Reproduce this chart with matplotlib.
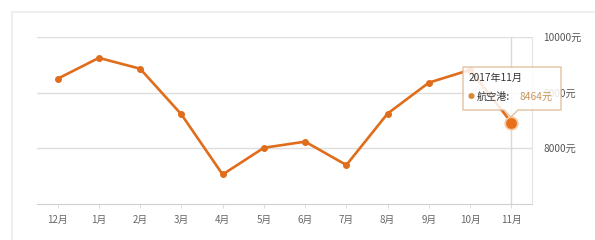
import matplotlib.pyplot as plt
from matplotlib.patches import Polygon
from matplotlib.lines import Line2D

plt.rcParams['font.family'] = ['Noto Sans CJK SC', 'DejaVu Sans']

months = ['12月', '1月', '2月', '3月', '4月', '5月', '6月', '7月', '8月', '9月', '10月', '11月']
prices = [9250, 9625, 9430, 8610, 7530, 8010, 8120, 7700, 8625, 9180, 9410, 8464]
yticks = [8000, 9000, 10000]
ylabels = ['8000元', '9000元', '10000元']
series_name = '航空港'
tip_title = '2017年11月'

W, H = 595, 240
fig = plt.figure(figsize=(W / 100, H / 100), dpi=100)
ax = fig.add_axes([37 / W, 1 - 204 / H, (532 - 37) / W, (204 - 37) / H])


def px(x, y):
    return (x / W, 1 - y / H)


# outer panel frame
fig.add_artist(Line2D([12 / W, 12 / W], [0, 1 - 12 / H], color='#ececec', lw=1.2))
fig.add_artist(Line2D([12 / W, 1], [1 - 12 / H, 1 - 12 / H], color='#ececec', lw=1.2))

xs = list(range(len(months)))
ax.plot(xs, prices, color='#e06d1c', lw=1.9, marker='o', ms=4, zorder=3)
ax.plot(xs[-1], prices[-1], 'o', color='#e8701a', ms=9, mec='#f6c9a0', mew=1.2, zorder=4)
ax.axvline(xs[-1], color='#d8d8d8', lw=1, zorder=1)

ax.set_xlim(-0.5, 11.5)
ax.set_ylim(7000, 10000)
ax.set_xticks(xs)
ax.set_xticklabels(months, fontsize=7, color='#666666')
ax.set_yticks(yticks)
ax.set_yticklabels(ylabels, fontsize=7.3, color='#555555')
ax.yaxis.tick_right()
ax.tick_params(axis='y', length=0, pad=8)
ax.tick_params(axis='x', length=3, color='#dddddd', pad=5)
ax.grid(axis='y', color='#dedede', lw=1)
ax.set_axisbelow(True)
for s in ['left', 'top']:
    ax.spines[s].set_visible(False)
ax.spines['right'].set_color('#e2e2e2')
ax.spines['bottom'].set_color('#d0d0d0')

# tooltip
box = Polygon([px(463, 67), px(561, 67), px(561, 110), px(518, 110), px(511, 117),
               px(504, 110), px(463, 110)], closed=True, transform=fig.transFigure,
              facecolor='white', alpha=0.85, edgecolor='#dcb88e', lw=1, zorder=10)
fig.add_artist(box)
fig.text(*px(469, 78), tip_title, fontsize=7.3, color='#333333', va='center', zorder=11)
fig.text(*px(471, 97), '●', fontsize=5, color='#d98b3a', va='center', ha='center', zorder=11)
fig.text(*px(477, 97), series_name + ':', fontsize=7.3, color='#333333', va='center', zorder=11)
fig.text(*px(520, 97), '%d元' % prices[-1], fontsize=7.3, color='#c8955c', va='center', zorder=11)

fig.savefig('out.png', dpi=100, facecolor='white')
